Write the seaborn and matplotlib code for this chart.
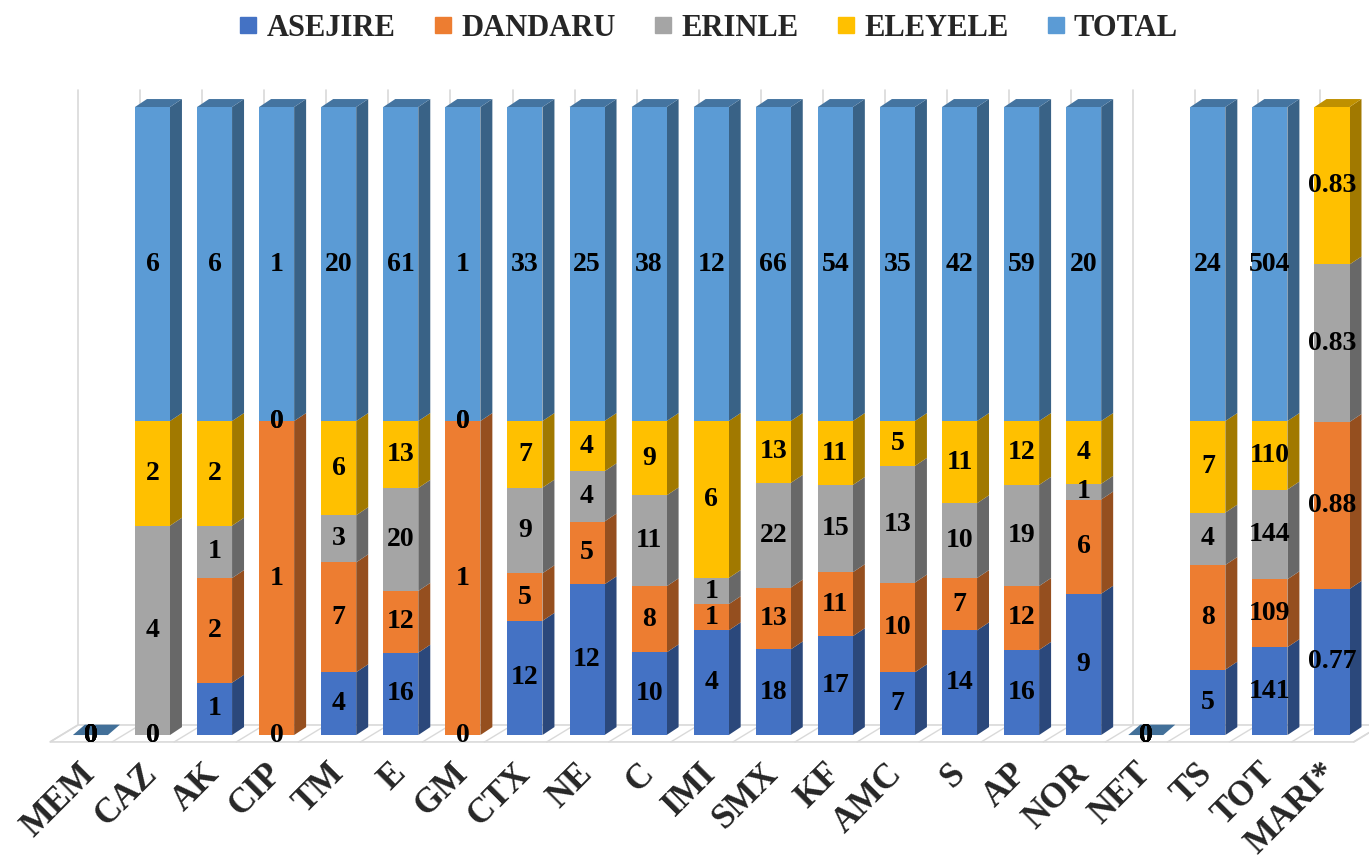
import numpy as np
import pandas as pd
import matplotlib
matplotlib.use("Agg")
import matplotlib.pyplot as plt
from matplotlib.patches import Polygon
from matplotlib.lines import Line2D
from matplotlib.colors import to_rgb
import matplotlib.transforms as mtransforms
import seaborn as sns

# ── Data ──────────────────────────────────────────────────────────────────────
CATEGORIES = ["MEM", "CAZ", "AK", "CIP", "TM", "E", "GM", "CTX", "NE", "C", "IMI",
              "SMX", "KF", "AMC", "S", "AP", "NOR", "NET", "TS", "TOT", "MARI*"]
ASEJIRE = [0, 0, 1, 0, 4, 16, 0, 12, 12, 10, 4, 18, 17, 7, 14, 16, 9, 0, 5, 141, 0.77]
DANDARU = [0, 0, 2, 1, 7, 12, 1, 5, 5, 8, 1, 13, 11, 10, 7, 12, 6, 0, 8, 109, 0.88]
ERINLE = [0, 4, 1, 0, 3, 20, 0, 9, 4, 11, 1, 22, 15, 13, 10, 19, 1, 0, 4, 144, 0.83]
ELEYELE = [0, 2, 2, 0, 6, 13, 0, 7, 4, 9, 6, 13, 11, 5, 11, 12, 4, 0, 7, 110, 0.83]
TOTAL = [0, 6, 6, 1, 20, 61, 1, 33, 25, 38, 12, 66, 54, 35, 42, 59, 20, 0, 24, 504, np.nan]

SERIES = ["ASEJIRE", "DANDARU", "ERINLE", "ELEYELE", "TOTAL"]
COLORS = ["#4472C4", "#ED7D31", "#A5A5A5", "#FFC000", "#5B9BD5"]

# ── Style ─────────────────────────────────────────────────────────────────────
sns.set_theme(style="white")
plt.rcParams["font.family"] = ["Liberation Serif", "DejaVu Serif"]
plt.rcParams["font.weight"] = "bold"


def shade(color, f):
    r, g, b = to_rgb(color)
    return (r * f, g * f, b * f)


raw = np.array([ASEJIRE, DANDARU, ERINLE, ELEYELE, TOTAL], dtype=float)
values = np.nan_to_num(raw)
sums = values.sum(axis=0)
fracs = np.divide(values, sums, out=np.zeros_like(values), where=sums > 0)
tops = np.cumsum(fracs, axis=0)
bottoms = tops - fracs

W, DX, DY = 0.564, 0.193, 0.0127   # front width, 3-D depth offsets
n = len(CATEGORIES)

fig = plt.figure(figsize=(13.69, 8.55), dpi=100)
ax = fig.add_axes([0, 0.1251, 1, 0.8749])

# ── Floor + back wall ─────────────────────────────────────────────────────────
FY0, FY1 = -0.011, 0.016
floor = Polygon([(-0.65, FY0), (n - 0.65, FY0), (n - 0.2, FY1), (-0.2, FY1)],
                closed=True, facecolor="white", edgecolor="#D9D9D9", lw=1.2, zorder=0)
ax.add_patch(floor)
for k in range(n + 1):
    ax.plot([k - 0.65, k - 0.2], [FY0, FY1], color="#D9D9D9", lw=1.0, zorder=0.5)
    ax.plot([k - 0.2, k - 0.2], [FY1, 1.027], color="#D9D9D9", lw=1.2, zorder=0.5)

# ── Front faces (stacked via cumulative heights) ──────────────────────────────
df = pd.DataFrame({"cat": CATEGORIES})
for k in reversed(range(len(SERIES))):
    df["top"] = tops[k]
    sns.barplot(data=df, x="cat", y="top", order=CATEGORIES, color=COLORS[k],
                saturation=1, width=W, linewidth=0, errorbar=None, ax=ax, zorder=3)

# ── Side / top faces ──────────────────────────────────────────────────────────
for i in range(n):
    x0, x1 = i - W / 2, i + W / 2
    if sums[i] == 0:
        ax.add_patch(Polygon([(x0, 0), (x1, 0), (x1 + DX, DY * 1.3), (x0 + DX, DY * 1.3)],
                             closed=True, facecolor=shade(COLORS[4], 0.72), lw=0, zorder=3))
        continue
    top_k = None
    for k in range(len(SERIES)):
        if fracs[k, i] <= 0:
            continue
        b, t = bottoms[k, i], tops[k, i]
        ax.add_patch(Polygon([(x1, b), (x1 + DX, b + DY), (x1 + DX, t + DY), (x1, t)],
                             closed=True, facecolor=shade(COLORS[k], 0.63), lw=0, zorder=2.5))
        top_k = k
    ax.add_patch(Polygon([(x0, 1), (x1, 1), (x1 + DX, 1 + DY), (x0 + DX, 1 + DY)],
                         closed=True, facecolor=shade(COLORS[top_k], 0.75), lw=0, zorder=2.5))

# ── Value labels ──────────────────────────────────────────────────────────────
for k in range(len(SERIES)):
    for i in range(n):
        v = raw[k, i]
        if np.isnan(v):
            continue
        y = bottoms[k, i] + fracs[k, i] / 2
        ax.text(i, y, f"{v:g}", ha="center", va="center", fontsize=20,
                fontweight="bold", color="black", zorder=6)

# ── Axes ──────────────────────────────────────────────────────────────────────
ax.set_xlim(-1.456, 20.596)
ax.set_ylim(-0.0207, 1.1704)
ax.set_xticks(range(n))
ax.set_xticklabels(CATEGORIES, rotation=45, ha="right", va="center",
                   rotation_mode="anchor", fontsize=25, fontweight="bold")
shift = mtransforms.ScaledTranslation(-4 / 100, 0, fig.dpi_scale_trans)
for lbl in ax.get_xticklabels():
    lbl.set_transform(lbl.get_transform() + shift)
ax.tick_params(axis="x", length=0, pad=15)
ax.set_yticks([])
ax.set_xlabel("")
ax.set_ylabel("")
sns.despine(ax=ax, left=True, bottom=True)

handles = [Line2D([], [], marker="s", ls="", color=c, markersize=11) for c in COLORS]
fig.legend(handles, SERIES, loc="center", bbox_to_anchor=(0.517, 1 - 28 / 855),
           ncol=5, frameon=False, handlelength=0.7, handletextpad=0.25,
           columnspacing=1.2, prop={"size": 22, "weight": "bold"})

fig.savefig("out.png", dpi=100)
